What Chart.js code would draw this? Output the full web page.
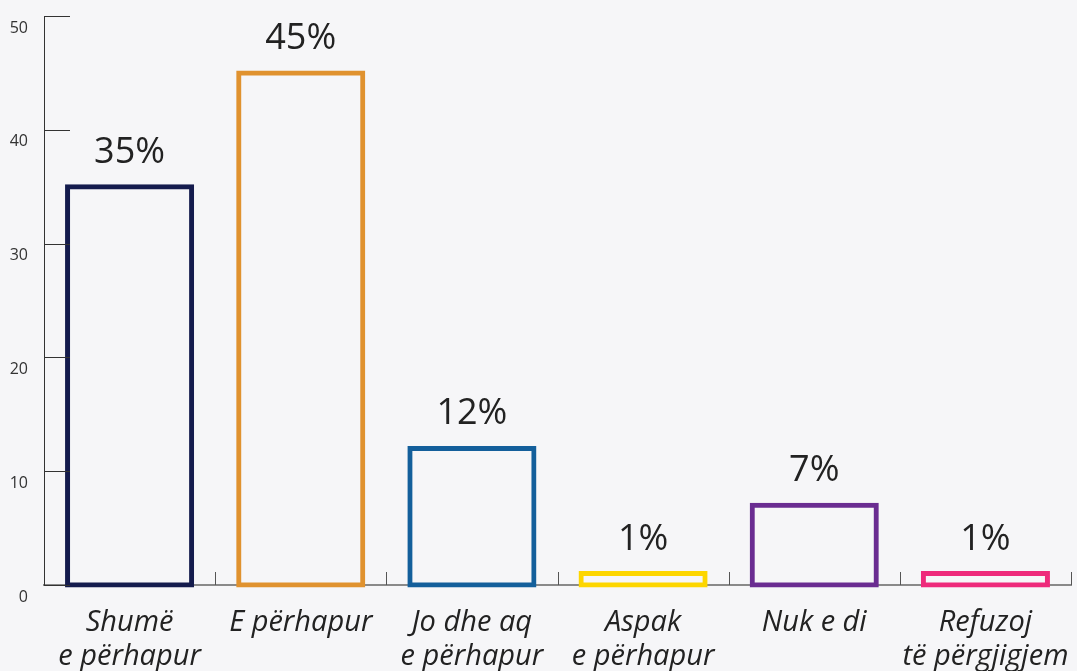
<!DOCTYPE html>
<html>
<head>
<meta charset="utf-8">
<script src="https://cdn.jsdelivr.net/npm/chart.js@4"></script>
<style>
  body { margin: 0; background: #f6f6f8; }
  canvas { display: block; }
</style>
</head>
<body>
<canvas id="graf" width="1077" height="671"></canvas>
<script>
// categories (two lines each)
const kategorite = [
  ['Shumë', 'e përhapur'],
  'E përhapur',
  ['Jo dhe aq', 'e përhapur'],
  ['Aspak', 'e përhapur'],
  'Nuk e di',
  ['Refuzoj', 'të përgjigjem']
];
const vlerat = [35, 45, 12, 1, 7, 1];
const ngjyrat = ['#141b4d', '#e0922f', '#135f9b', '#fdd600', '#6a2c91', '#ee2a7b'];
const yTicks = [0, 10, 20, 30, 40, 50];

const bg = '#f6f6f8';

// stubs on the axes + % labels above bars
const shenjat = {
  id: 'shenjat',
  afterDraw(chart) {
    const c = chart.ctx;
    const x = chart.scales.x, y = chart.scales.y;
    const area = chart.chartArea;
    c.save();
    // y stubs inside the chart
    c.strokeStyle = '#333';
    c.lineWidth = 1;
    yTicks.forEach(v => {
      const py = Math.round(y.getPixelForValue(v)) + 0.5;
      c.beginPath();
      c.moveTo(area.left, py);
      c.lineTo(area.left + 26, py);
      c.stroke();
    });
    // x stubs between categories, pointing up
    const step = x.getPixelForValue(1) - x.getPixelForValue(0);
    c.strokeStyle = '#555';
    for (let i = 0; i < kategorite.length; i++) {
      const px = Math.round(x.getPixelForValue(i) + step / 2) + 0.5;
      c.beginPath();
      c.moveTo(px, area.bottom);
      c.lineTo(px, area.bottom - 13);
      c.stroke();
    }
    // percent labels
    c.fillStyle = '#222';
    c.font = '36px "Open Sans"';
    c.textAlign = 'center';
    c.textBaseline = 'alphabetic';
    chart.getDatasetMeta(0).data.forEach((bar, i) => {
      c.fillText(vlerat[i] + '%', bar.x, bar.y - 24);
    });
    c.restore();
  }
};

new Chart(document.getElementById('graf'), {
  type: 'bar',
  data: {
    labels: kategorite,
    datasets: [{
      data: vlerat,
      backgroundColor: bg,
      borderColor: ngjyrat,
      borderWidth: 5,
      borderSkipped: false,
      inflateAmount: 2.5,
      categoryPercentage: 1,
      barPercentage: 0.725,
      clip: false
    }]
  },
  options: {
    responsive: false,
    animation: false,
    layout: { padding: { top: 16, right: 6, left: 0, bottom: 0 } },
    plugins: {
      legend: { display: false },
      tooltip: { enabled: false }
    },
    scales: {
      x: {
        grid: { display: false, drawTicks: false },
        border: { display: true, color: '#8a8a8a', width: 2 },
        ticks: {
          padding: 20,
          color: '#222',
          maxRotation: 0,
          autoSkip: false,
          font: { family: '"Open Sans"', size: 29, style: 'italic', lineHeight: 1.2 }
        },
        afterFit: s => { s.height = 86; s.paddingLeft = 0; s.paddingRight = 0; }
      },
      y: {
        min: 0,
        max: 50,
        grid: { display: false, drawTicks: false },
        border: { display: true, color: '#333', width: 1 },
        ticks: {
          stepSize: 10,
          padding: 16,
          labelOffset: 12,
          color: '#333',
          font: { family: '"Open Sans"', size: 16 }
        },
        afterFit: s => { s.width = 44; s.paddingTop = 0; s.paddingBottom = 0; }
      }
    }
  },
  plugins: [shenjat]
});
</script>
</body>
</html>
